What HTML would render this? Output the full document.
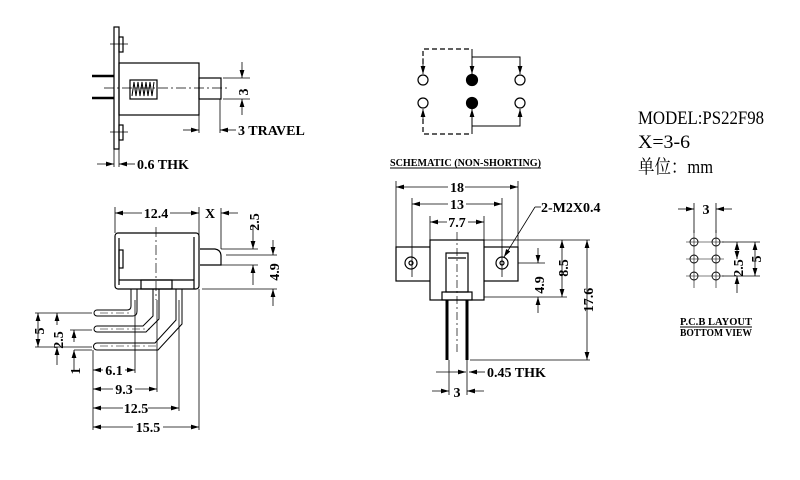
<!DOCTYPE html>
<html><head><meta charset="utf-8"><style>html,body{margin:0;padding:0;background:#fff}svg{display:block}</style></head><body>
<svg width="800" height="480" viewBox="0 0 800 480" xmlns="http://www.w3.org/2000/svg" font-family="Liberation Serif, serif" font-weight="bold">
<defs>
<marker id="a" viewBox="0 0 10 6" refX="10" refY="3" markerWidth="8" markerHeight="5" orient="auto-start-reverse" markerUnits="userSpaceOnUse"><path d="M0,0L10,3L0,6z" fill="#000"/></marker>
</defs>
<g stroke="#000" stroke-width="1.2" fill="none">
<rect x="114" y="27" width="5" height="122"/>
<rect x="119" y="37" width="4" height="15"/>
<rect x="119" y="125" width="4" height="15"/>
<rect x="119" y="63" width="80" height="52"/>
<rect x="199" y="78" width="22" height="21"/>
<rect x="130" y="80" width="27" height="19"/>
<polyline points="132,96 134,82 136,96 138,82 140,96 142,82 144,96 146,82 148,96 150,82 152,96 154,82" stroke-width="1"/>
<line x1="92" y1="76" x2="114" y2="76" stroke-width="2.5"/>
<line x1="92" y1="98" x2="114" y2="98" stroke-width="2.5"/>
<line x1="104" y1="88" x2="228" y2="88" stroke-width="0.7" stroke-dasharray="10,3,2,3"/>
<line x1="110" y1="44" x2="128" y2="44" stroke-width="0.7"/>
<line x1="110" y1="132" x2="128" y2="132" stroke-width="0.7"/>
<line x1="223" y1="78" x2="250" y2="78" stroke-width="0.8"/>
<line x1="223" y1="99" x2="250" y2="99" stroke-width="0.8"/>
<line x1="242" y1="62" x2="242" y2="78" stroke-width="0.8" marker-end="url(#a)"/>
<line x1="242" y1="115" x2="242" y2="99" stroke-width="0.8" marker-end="url(#a)"/>
<line x1="199" y1="115" x2="199" y2="133" stroke-width="0.8"/>
<line x1="220" y1="99" x2="220" y2="133" stroke-width="0.8"/>
<line x1="183" y1="130" x2="199" y2="130" stroke-width="0.8" marker-end="url(#a)"/>
<line x1="236" y1="130" x2="220" y2="130" stroke-width="0.8" marker-end="url(#a)"/>
<line x1="114" y1="149" x2="114" y2="167" stroke-width="0.8"/>
<line x1="119" y1="149" x2="119" y2="167" stroke-width="0.8"/>
<line x1="97" y1="164" x2="114" y2="164" stroke-width="0.8" marker-end="url(#a)"/>
<line x1="135" y1="164" x2="119" y2="164" stroke-width="0.8" marker-end="url(#a)"/>

<rect x="115" y="233" width="84" height="56" rx="3"/>
<line x1="119" y1="238" x2="119" y2="285"/>
<rect x="119" y="250" width="4" height="18"/>
<line x1="194" y1="237" x2="194" y2="289"/>
<line x1="119" y1="280" x2="194" y2="280"/>
<rect x="141" y="280" width="31" height="9"/>
<path d="M200,249 H215 Q221,250 221,256 V265 H200"/>
<line x1="221" y1="249" x2="258" y2="249" stroke-width="0.8"/>
<line x1="221" y1="265" x2="258" y2="265" stroke-width="0.8"/>
<line x1="226" y1="255" x2="277" y2="255" stroke-width="0.8"/>
<line x1="202" y1="289" x2="277" y2="289" stroke-width="0.8"/>
<line x1="156" y1="227" x2="156" y2="300" stroke-width="0.7" stroke-dasharray="10,3,2,3"/>
<path d="M131,289 V306 Q131,310 127,310 H97 A3,3 0 0 0 97,316 H133 Q137,316 137,311 V289" stroke-width="1"/>
<path d="M153,289 V316 L143,326 H97 A3,3 0 0 0 97,332 H146 L159,319 V289" stroke-width="1"/>
<path d="M176,289 V320 L155,343 H97 A3,3 0 0 0 97,350 H158 L182,324 V289" stroke-width="1"/>
<line x1="100" y1="313" x2="130" y2="313" stroke-width="0.6" stroke-dasharray="8,3,2,3"/>
<line x1="100" y1="329" x2="150" y2="329" stroke-width="0.6" stroke-dasharray="8,3,2,3"/>
<line x1="100" y1="346" x2="156" y2="346" stroke-width="0.6" stroke-dasharray="8,3,2,3"/>
<line x1="135" y1="300" x2="135" y2="373" stroke-width="0.8"/>
<line x1="157" y1="300" x2="157" y2="392" stroke-width="0.8"/>
<line x1="179" y1="300" x2="179" y2="411" stroke-width="0.8"/>
<line x1="199" y1="289" x2="199" y2="430" stroke-width="0.8"/>
<line x1="93" y1="350" x2="93" y2="430" stroke-width="0.8"/>
<line x1="35" y1="313" x2="92" y2="313" stroke-width="0.8"/>
<line x1="35" y1="347" x2="92" y2="347" stroke-width="0.8"/>
<line x1="70" y1="330" x2="92" y2="330" stroke-width="0.8"/>
<line x1="38" y1="313" x2="38" y2="347" stroke-width="0.8" marker-start="url(#a)" marker-end="url(#a)"/>
<line x1="57" y1="313" x2="57" y2="325" stroke-width="0.8" marker-start="url(#a)"/>
<line x1="57" y1="365" x2="57" y2="347" stroke-width="0.8" marker-end="url(#a)"/>
<line x1="74" y1="330" x2="74" y2="342" stroke-width="0.8" marker-start="url(#a)"/>
<line x1="74" y1="370" x2="74" y2="350" stroke-width="0.8" marker-end="url(#a)"/>
<line x1="74" y1="350" x2="92" y2="350" stroke-width="0.8"/>
<line x1="93" y1="370" x2="103" y2="370" stroke-width="0.8" marker-start="url(#a)"/>
<line x1="125" y1="370" x2="135" y2="370" stroke-width="0.8" marker-end="url(#a)"/>
<line x1="93" y1="389" x2="113" y2="389" stroke-width="0.8" marker-start="url(#a)"/>
<line x1="135" y1="389" x2="157" y2="389" stroke-width="0.8" marker-end="url(#a)"/>
<line x1="93" y1="408" x2="123" y2="408" stroke-width="0.8" marker-start="url(#a)"/>
<line x1="148" y1="408" x2="179" y2="408" stroke-width="0.8" marker-end="url(#a)"/>
<line x1="93" y1="427" x2="133" y2="427" stroke-width="0.8" marker-start="url(#a)"/>
<line x1="163" y1="427" x2="199" y2="427" stroke-width="0.8" marker-end="url(#a)"/>
<line x1="115" y1="207" x2="115" y2="233" stroke-width="0.8"/>
<line x1="199" y1="207" x2="199" y2="249" stroke-width="0.8"/>
<line x1="115" y1="213" x2="142" y2="213" stroke-width="0.8" marker-start="url(#a)"/>
<line x1="170" y1="213" x2="199" y2="213" stroke-width="0.8" marker-end="url(#a)"/>
<line x1="221" y1="208" x2="221" y2="249" stroke-width="0.8"/>
<line x1="238" y1="213" x2="221" y2="213" stroke-width="0.8" marker-end="url(#a)"/>
<line x1="253" y1="225" x2="253" y2="249" stroke-width="0.8" marker-end="url(#a)"/>
<line x1="253" y1="285" x2="253" y2="265" stroke-width="0.8" marker-end="url(#a)"/>
<line x1="273" y1="240" x2="273" y2="255" stroke-width="0.8" marker-end="url(#a)"/>
<line x1="273" y1="306" x2="273" y2="289" stroke-width="0.8" marker-end="url(#a)"/>

<path d="M423,80 V49 H472" stroke-dasharray="5,3"/>
<path d="M423,103 V134 H472" stroke-dasharray="5,3"/>
<line x1="423" y1="58" x2="423" y2="74" stroke-width="0.8" marker-end="url(#a)"/>
<line x1="423" y1="124" x2="423" y2="109" stroke-width="0.8" marker-end="url(#a)"/>
<path d="M472,49 V74" marker-end="url(#a)" stroke-width="1"/>
<path d="M472,134 V109" marker-end="url(#a)" stroke-width="1"/>
<path d="M472,57 H520 V74" marker-end="url(#a)" stroke-width="1"/>
<path d="M472,126 H520 V109" marker-end="url(#a)" stroke-width="1"/>
<circle cx="423" cy="80" r="5" fill="#fff"/>
<circle cx="423" cy="103" r="5" fill="#fff"/>
<circle cx="520" cy="80" r="5" fill="#fff"/>
<circle cx="520" cy="103" r="5" fill="#fff"/>
<circle cx="472" cy="80" r="5.5" fill="#000"/>
<circle cx="472" cy="103" r="5.5" fill="#000"/>
<line x1="390" y1="168" x2="541" y2="168" stroke-width="1"/>

<rect x="396" y="247" width="122" height="34"/>
<rect x="430" y="240" width="54" height="60" fill="#fff"/>
<circle cx="411" cy="263" r="6"/><circle cx="411" cy="263" r="2"/>
<circle cx="502" cy="263" r="6"/><circle cx="502" cy="263" r="2"/>
<rect x="446" y="253" width="22" height="39"/>
<line x1="448" y1="258" x2="466" y2="258"/>
<rect x="442" y="292" width="30" height="8"/>
<line x1="447" y1="300" x2="447" y2="360" stroke-width="3"/>
<line x1="467" y1="300" x2="467" y2="360" stroke-width="3"/>
<line x1="457" y1="232" x2="457" y2="355" stroke-width="0.7" stroke-dasharray="8,3,2,3"/>
<line x1="396" y1="181" x2="396" y2="247" stroke-width="0.8"/>
<line x1="518" y1="181" x2="518" y2="247" stroke-width="0.8"/>
<line x1="412" y1="198" x2="412" y2="277" stroke-width="0.8"/>
<line x1="502" y1="198" x2="502" y2="277" stroke-width="0.8"/>
<line x1="430" y1="216" x2="430" y2="240" stroke-width="0.8"/>
<line x1="484" y1="216" x2="484" y2="240" stroke-width="0.8"/>
<line x1="396" y1="187" x2="448" y2="187" stroke-width="0.8" marker-start="url(#a)"/>
<line x1="465" y1="187" x2="518" y2="187" stroke-width="0.8" marker-end="url(#a)"/>
<line x1="412" y1="204" x2="448" y2="204" stroke-width="0.8" marker-start="url(#a)"/>
<line x1="466" y1="204" x2="502" y2="204" stroke-width="0.8" marker-end="url(#a)"/>
<line x1="430" y1="222" x2="447" y2="222" stroke-width="0.8" marker-start="url(#a)"/>
<line x1="468" y1="222" x2="484" y2="222" stroke-width="0.8" marker-end="url(#a)"/>
<line x1="535" y1="207" x2="504" y2="257" stroke-width="0.8" marker-end="url(#a)"/>
<line x1="535" y1="207" x2="541" y2="207" stroke-width="0.8"/>
<line x1="484" y1="240" x2="590" y2="240" stroke-width="0.8"/>
<line x1="518" y1="263" x2="545" y2="263" stroke-width="0.8"/>
<line x1="484" y1="297" x2="567" y2="297" stroke-width="0.8"/>
<line x1="470" y1="360" x2="590" y2="360" stroke-width="0.8"/>
<line x1="538" y1="248" x2="538" y2="263" stroke-width="0.8" marker-end="url(#a)"/>
<line x1="538" y1="313" x2="538" y2="297" stroke-width="0.8" marker-end="url(#a)"/>
<line x1="562" y1="240" x2="562" y2="297" stroke-width="0.8" marker-start="url(#a)" marker-end="url(#a)"/>
<line x1="587" y1="240" x2="587" y2="360" stroke-width="0.8" marker-start="url(#a)" marker-end="url(#a)"/>
<line x1="449" y1="360" x2="449" y2="395" stroke-width="0.8"/>
<line x1="467" y1="360" x2="467" y2="395" stroke-width="0.8"/>
<line x1="436" y1="372" x2="466" y2="372" stroke-width="0.8" marker-end="url(#a)"/>
<line x1="485" y1="372" x2="469" y2="372" stroke-width="0.8" marker-end="url(#a)"/>
<line x1="432" y1="391" x2="449" y2="391" stroke-width="0.8" marker-end="url(#a)"/>
<line x1="484" y1="391" x2="467" y2="391" stroke-width="0.8" marker-end="url(#a)"/>

<g stroke-width="0.9">
<circle cx="694" cy="242" r="4"/><circle cx="716" cy="242" r="4"/>
<circle cx="694" cy="259" r="4"/><circle cx="716" cy="259" r="4"/>
<circle cx="694" cy="276" r="4"/><circle cx="716" cy="276" r="4"/>
<path d="M694,230 V288 M716,230 V288 M686,242 H724 M686,259 H724 M686,276 H724" stroke-width="0.6"/>
</g>
<line x1="694" y1="203" x2="694" y2="233" stroke-width="0.8"/>
<line x1="716" y1="203" x2="716" y2="233" stroke-width="0.8"/>
<line x1="678" y1="209" x2="694" y2="209" stroke-width="0.8" marker-end="url(#a)"/>
<line x1="732" y1="209" x2="716" y2="209" stroke-width="0.8" marker-end="url(#a)"/>
<line x1="722" y1="242" x2="760" y2="242" stroke-width="0.8"/>
<line x1="722" y1="276" x2="760" y2="276" stroke-width="0.8"/>
<line x1="737" y1="242" x2="737" y2="259" stroke-width="0.8" marker-start="url(#a)" marker-end="url(#a)"/>
<line x1="737" y1="293" x2="737" y2="276" stroke-width="0.8" marker-end="url(#a)"/>
<line x1="755" y1="242" x2="755" y2="276" stroke-width="0.8" marker-start="url(#a)" marker-end="url(#a)"/>
<line x1="680" y1="327" x2="752" y2="327" stroke-width="1"/>
</g>

<g font-size="14" fill="#000">
<text x="238" y="135">3 TRAVEL</text>
<text x="137" y="169">0.6 THK</text>
<text x="248" y="92" transform="rotate(-90 248 92)" text-anchor="middle">3</text>
<text x="156" y="218" text-anchor="middle">12.4</text>
<text x="210" y="218" text-anchor="middle">X</text>
<text x="259" y="222" transform="rotate(-90 259 222)" text-anchor="middle">2.5</text>
<text x="279" y="272" transform="rotate(-90 279 272)" text-anchor="middle">4.9</text>
<text x="44" y="331" transform="rotate(-90 44 331)" text-anchor="middle">5</text>
<text x="63" y="340" transform="rotate(-90 63 340)" text-anchor="middle">2.5</text>
<text x="80" y="371" transform="rotate(-90 80 371)" text-anchor="middle">1</text>
<text x="114" y="375" text-anchor="middle">6.1</text>
<text x="124" y="394" text-anchor="middle">9.3</text>
<text x="136" y="413" text-anchor="middle">12.5</text>
<text x="148" y="432" text-anchor="middle">15.5</text>
<text x="457" y="192" text-anchor="middle">18</text>
<text x="457" y="209" text-anchor="middle">13</text>
<text x="457" y="227" text-anchor="middle">7.7</text>
<text x="541" y="212">2-M2X0.4</text>
<text x="544" y="285" transform="rotate(-90 544 285)" text-anchor="middle">4.9</text>
<text x="568" y="268" transform="rotate(-90 568 268)" text-anchor="middle">8.5</text>
<text x="593" y="300" transform="rotate(-90 593 300)" text-anchor="middle">17.6</text>
<text x="487" y="377">0.45 THK</text>
<text x="457" y="397" text-anchor="middle">3</text>
<text x="706" y="214" text-anchor="middle">3</text>
<text x="743" y="268" transform="rotate(-90 743 268)" text-anchor="middle">2.5</text>
<text x="761" y="259" transform="rotate(-90 761 259)" text-anchor="middle">5</text>
</g>
<text x="390" y="166" font-size="11" textLength="151" lengthAdjust="spacingAndGlyphs">SCHEMATIC (NON-SHORTING)</text>
<text x="680" y="325" font-size="11" textLength="72" lengthAdjust="spacingAndGlyphs">P.C.B LAYOUT</text>
<text x="680" y="336" font-size="11" textLength="72" lengthAdjust="spacingAndGlyphs">BOTTOM VIEW</text>
<g font-weight="normal" font-size="19" fill="#000">
<text x="638" y="124" textLength="126" lengthAdjust="spacingAndGlyphs">MODEL:PS22F98</text>
<text x="638" y="148" textLength="52" lengthAdjust="spacingAndGlyphs">X=3-6</text>
<text x="638" y="173" font-family="Liberation Serif, 'Noto Serif CJK SC', serif" textLength="75" lengthAdjust="spacingAndGlyphs">单位：mm</text>
</g>
</svg>
</body></html>
